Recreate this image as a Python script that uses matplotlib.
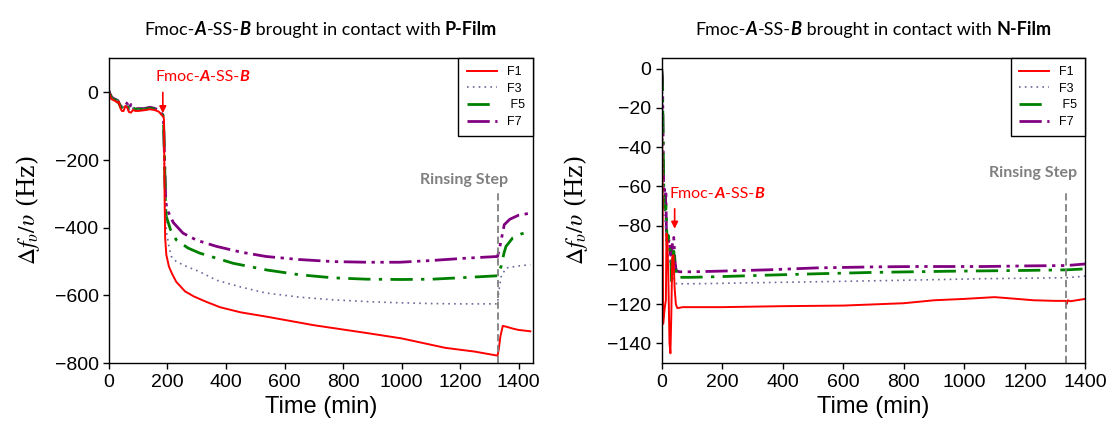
import numpy as np
import matplotlib
matplotlib.use("Agg")
import matplotlib.pyplot as plt
from matplotlib.lines import Line2D
from matplotlib.offsetbox import TextArea, HPacker, AnnotationBbox

plt.rcParams['font.family'] = ['Liberation Sans', 'DejaVu Sans']
plt.rcParams['mathtext.fontset'] = 'stix'

# ---------------------------------------------------------------- data
# P-Film panel (time in min, shift in Hz)
t_p_f1 = [0, 4, 8, 14, 20, 28, 34, 38, 44, 50, 56, 62, 68, 75, 82, 90, 100, 120, 140, 155, 170, 186,
          188, 190, 192, 196, 205, 215, 230, 260, 290, 330, 380, 450, 540, 700, 880, 1000, 1150, 1250,
          1328, 1332, 1338, 1346, 1360, 1380, 1400, 1440]
df_p_f1 = [0, -10, -20, -22, -25, -30, -28, -45, -55, -55, -40, -45, -58, -60, -52, -55, -55, -53, -50, -52, -57, -72,
           -80, -300, -430, -480, -515, -535, -560, -588, -603, -618, -635, -650, -663, -688, -711, -727, -755, -766,
           -778, -760, -720, -690, -693, -698, -702, -706]

t_p_f3 = [0, 4, 10, 20, 30, 38, 44, 50, 56, 62, 68, 75, 82, 90, 100, 120, 140, 155, 170, 186,
          188, 191, 196, 205, 213, 230, 264, 310, 367, 450, 537, 650, 765, 900, 1000, 1100, 1200, 1328,
          1332, 1340, 1357, 1400, 1440]
df_p_f3 = [0, -8, -18, -22, -25, -42, -48, -42, -34, -38, -52, -42, -47, -52, -51, -50, -48, -50, -56, -70,
           -150, -300, -411, -455, -485, -500, -514, -530, -555, -575, -593, -605, -613, -619, -622, -624, -625, -625,
           -590, -545, -519, -513, -509]

t_p_f5 = [0, 4, 10, 20, 30, 38, 44, 50, 56, 62, 68, 75, 82, 90, 100, 120, 140, 155, 170, 186,
          190, 193, 196, 210, 230, 270, 310, 424, 540, 651, 765, 879, 1000, 1106, 1220, 1328,
          1334, 1340, 1350, 1357, 1380, 1410, 1440]
df_p_f5 = [0, -8, -18, -22, -25, -40, -45, -40, -32, -35, -50, -38, -45, -50, -50, -50, -47, -49, -55, -70,
           -200, -330, -367, -405, -436, -460, -475, -505, -525, -539, -548, -552, -553, -552, -547, -542,
           -525, -515, -475, -455, -430, -418, -411]

t_p_f7 = [0, 4, 10, 20, 30, 38, 44, 50, 56, 62, 68, 75, 82, 90, 100, 120, 140, 155, 170, 186,
          190, 194, 198, 220, 253, 300, 367, 450, 537, 650, 765, 880, 993, 1100, 1220, 1328,
          1335, 1342, 1351, 1370, 1400, 1440]
df_p_f7 = [5, -5, -15, -20, -24, -38, -43, -38, -30, -33, -48, -36, -44, -49, -48, -48, -44, -47, -53, -68,
           -200, -320, -345, -385, -416, -437, -455, -472, -485, -494, -500, -502, -502, -497, -490, -485,
           -460, -430, -391, -375, -363, -357]

# N-Film panel
t_n_f1 = [0, 3, 5, 8, 11, 14, 16, 19, 22, 26, 29, 32, 35, 39, 43, 47, 52, 70, 200, 400, 600, 800, 900,
          1000, 1100, 1150, 1230, 1300, 1335, 1338, 1342, 1350, 1400]
df_n_f1 = [0, -60, -130, -125, -121, -118, -84, -88, -105, -140, -145, -125, -96, -95, -112, -120, -122, -121.5,
           -121.5, -121, -120.7, -119.5, -118, -117.3, -116.4, -117, -118, -118.3, -118.3, -120, -118, -118.5, -117.3]

t_n_f3 = [0, 3, 6, 8, 12, 16, 22, 30, 36, 42, 50, 150, 292, 500, 733, 1064, 1339, 1400]
df_n_f3 = [0, -10, -55, -75, -78, -90, -95, -100, -104, -108, -109.6, -109.5, -109.1, -108.6, -108, -107,
           -106.5, -105.7]

t_n_f5 = [0, 3, 6, 8, 11, 14, 18, 22, 27, 30, 33, 37, 40, 45, 50, 100, 182, 350, 513, 700, 954, 1200, 1339, 1400]
df_n_f5 = [0, -10, -50, -69, -72, -70, -88, -85, -92, -95, -109, -100, -93, -100, -106.3, -106.3, -106, -105.2,
           -104.5, -103.8, -103.2, -102.8, -102.5, -102]

t_n_f7 = [0, 3, 5, 7, 9, 12, 14, 16, 20, 25, 30, 35, 40, 44, 48, 60, 100, 182, 350, 513, 700, 843, 1064, 1200,
          1339, 1400]
df_n_f7 = [0, -5, -40, -62, -60, -70, -62, -86, -90, -87, -95, -90, -86, -98, -103, -103.5, -103.5, -103.2,
           -102.5, -101.5, -101, -100.8, -100.8, -100.5, -100.3, -99.5]

labels = ['F1', 'F3', ' F5', 'F7']
rinse_p = 1328
rinse_n = 1337

# ---------------------------------------------------------------- styles
styles = [
    dict(color='#ff0000', lw=1.4, ls='-'),
    dict(color='#6a6a9a', lw=1.2, ls=(0, (1, 2.5))),
    dict(color='#008000', lw=2.0, ls=(0, (8, 3, 1.2, 3))),
    dict(color='#800080', lw=2.0, ls=(0, (8, 2, 1.2, 2, 1.2, 2))),
]


def rich_text(ax, parts, xy, xycoords, size, color='black', align=(0.5, 0.0), offset=(0, 0)):
    boxes = []
    for txt, weight, style in parts:
        boxes.append(TextArea(txt, textprops=dict(fontfamily='Lato', fontsize=size, color=color,
                                                  fontweight=weight, fontstyle=style)))
    pack = HPacker(children=boxes, align='baseline', pad=0, sep=0)
    ab = AnnotationBbox(pack, xy, xycoords=xycoords, xybox=offset, boxcoords='offset points',
                        box_alignment=align, frameon=False, pad=0)
    ax.add_artist(ab)


def title_parts(film):
    return [('Fmoc-', 'normal', 'normal'), ('A', 'bold', 'italic'), ('-SS-', 'normal', 'normal'),
            ('B', 'bold', 'italic'), (' brought in contact with ', 'normal', 'normal'),
            (film, 'bold', 'normal')]


label_parts = [('Fmoc-', 'normal', 'normal'), ('A', 'bold', 'italic'), ('-SS-', 'normal', 'normal'),
               ('B', 'bold', 'italic')]

fig = plt.figure(figsize=(11.12, 4.38), dpi=100)
ax1 = fig.add_axes([0.098, 0.171, 0.381, 0.697])
ax2 = fig.add_axes([0.595, 0.171, 0.381, 0.697])

series_p = [(t_p_f1, df_p_f1), (t_p_f3, df_p_f3), (t_p_f5, df_p_f5), (t_p_f7, df_p_f7)]
series_n = [(t_n_f1, df_n_f1), (t_n_f3, df_n_f3), (t_n_f5, df_n_f5), (t_n_f7, df_n_f7)]

for ax, series in ((ax1, series_p), (ax2, series_n)):
    for (t, df), st in zip(reversed(series), reversed(styles)):
        ax.plot(t, df, **st)

ax1.set_xlim(0, 1448)
ax1.set_ylim(-800, 102)
ax1.set_yticks(np.arange(-800, 1, 200))
ax2.set_xlim(0, 1400)
ax2.set_ylim(-150, 5.5)
ax2.set_yticks(np.arange(-140, 1, 20))

# rinsing markers
ax1.plot([rinse_p, rinse_p], [-800, -297], color='#808080', lw=1.3, ls=(0, (4, 2)))
ax1.text(1214, -259, 'Rinsing Step', fontfamily='Lato', fontweight='bold', fontsize=11.5,
         color='#808080', ha='center', va='center')
ax2.plot([rinse_n, rinse_n], [-150, -62], color='#808080', lw=1.3, ls=(0, (4, 2)))
ax2.text(1228, -53, 'Rinsing Step', fontfamily='Lato', fontweight='bold', fontsize=11.5,
         color='#808080', ha='center', va='center')

# injection arrows
ax1.annotate('', xy=(184, -70), xytext=(184, 8),
             arrowprops=dict(arrowstyle='-|>', color='red', lw=1.2, mutation_scale=10))
rich_text(ax1, label_parts, (319, 45), 'data', 11.5, color='red', align=(0.5, 0.5))
ax2.annotate('', xy=(43, -83), xytext=(43, -70),
             arrowprops=dict(arrowstyle='-|>', color='red', lw=1.2, mutation_scale=10))
rich_text(ax2, label_parts, (182, -64), 'data', 11.5, color='red', align=(0.5, 0.5))

rich_text(ax1, title_parts('P-Film'), (0.5, 1.0), 'axes fraction', 13, offset=(0, 14))
rich_text(ax2, title_parts('N-Film'), (0.5, 1.0), 'axes fraction', 13, offset=(0, 14))

handles = [Line2D([], [], **st) for st in styles]
for ax, pad in ((ax1, 9), (ax2, 12)):
    ax.set_xticks(np.arange(0, 1401, 200))
    ax.tick_params(labelsize=14, direction='out', length=4, width=1)
    ax.set_xlabel('Time (min)', fontsize=17, labelpad=4)
    ax.set_ylabel(r'$\Delta f_{\upsilon}/\upsilon$ (Hz)', fontsize=17, family='serif', labelpad=pad)
    for sp in ax.spines.values():
        sp.set_linewidth(1)
    leg = ax.legend(handles, labels, loc='upper right', borderaxespad=0, fancybox=False,
                    edgecolor='black', framealpha=1, fontsize=9, handlelength=2.4,
                    labelspacing=0.38, borderpad=0.65, handletextpad=0.8)
    leg.get_frame().set_linewidth(1)

fig.savefig('out.png', dpi=100)
